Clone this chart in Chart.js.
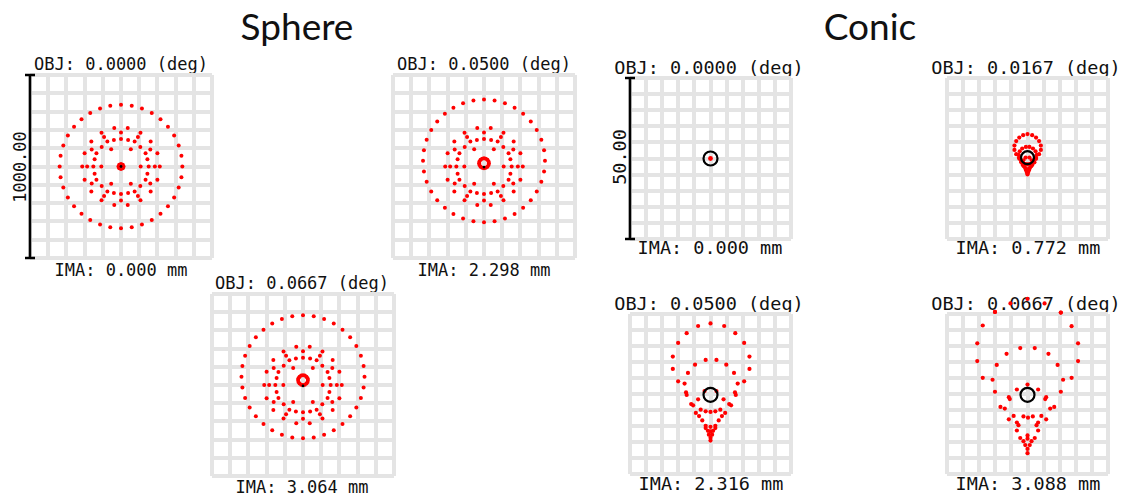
<!DOCTYPE html>
<html lang="en">
<head>
<meta charset="utf-8">
<title>Spot diagrams: Sphere vs Conic</title>
<script src="https://cdn.jsdelivr.net/npm/chart.js@4.4.1/dist/chart.umd.min.js"></script>
<style>
  body { margin: 0; width: 1125px; height: 495px; background: #fff; position: relative; overflow: hidden; }
  .big { position: absolute; transform: translate(-50%, -50%); font-family: Lato, sans-serif; font-size: 37px; color: #111; white-space: nowrap; }
  .lbl { position: absolute; transform: translate(-50%, -50%); font-family: "DejaVu Sans Mono", monospace; color: #111; white-space: nowrap; z-index: 1; line-height: 1; }
  .s { font-size: 17px; }
  .c { font-size: 18.5px; }
  .rot { transform: translate(-50%, -50%) rotate(-90deg); }
  canvas { position: absolute; z-index: 2; }
</style>
</head>
<body>
  <div class="big" style="left:297px; top:25px">Sphere</div>
  <div class="big" style="left:870px; top:25px">Conic</div>

  <div class="lbl s" style="left:121px; top:64px">OBJ: 0.0000 (deg)</div>
  <div class="lbl s" style="left:121px; top:270px">IMA: 0.000 mm</div>
  <div class="lbl s rot" style="left:20px; top:167px">1000.00</div>

  <div class="lbl s" style="left:484px; top:64px">OBJ: 0.0500 (deg)</div>
  <div class="lbl s" style="left:484px; top:270px">IMA: 2.298 mm</div>

  <div class="lbl s" style="left:302px; top:283px">OBJ: 0.0667 (deg)</div>
  <div class="lbl s" style="left:302px; top:487px">IMA: 3.064 mm</div>

  <div class="lbl c" style="left:709px; top:68px">OBJ: 0.0000 (deg)</div>
  <div class="lbl c" style="left:710px; top:248px">IMA: 0.000 mm</div>
  <div class="lbl c rot" style="left:620px; top:157px">50.00</div>

  <div class="lbl c" style="left:1026px; top:68px">OBJ: 0.0167 (deg)</div>
  <div class="lbl c" style="left:1028px; top:248px">IMA: 0.772 mm</div>

  <div class="lbl c" style="left:709px; top:304px">OBJ: 0.0500 (deg)</div>
  <div class="lbl c" style="left:711px; top:484px">IMA: 2.316 mm</div>

  <div class="lbl c" style="left:1026px; top:304px">OBJ: 0.0667 (deg)</div>
  <div class="lbl c" style="left:1028px; top:484px">IMA: 3.088 mm</div>

<script>
// spot positions in grid cells (10 x 10 cells per panel, chief ray near 0,0)

// sphere, outer ring of each field
const sphereOuter0 = [[3.37,0],[3.32,0.59],[3.17,1.15],[2.92,1.69],[2.58,2.17],[2.17,2.58],[1.69,2.92],[1.15,3.17],[0.59,3.32],[0,3.37],
  [-0.59,3.32],[-1.15,3.17],[-1.69,2.92],[-2.17,2.58],[-2.58,2.17],[-2.92,1.69],[-3.17,1.15],[-3.32,0.59],[-3.37,0],
  [-3.32,-0.59],[-3.17,-1.15],[-2.92,-1.69],[-2.58,-2.17],[-2.17,-2.58],[-1.69,-2.92],[-1.15,-3.17],[-0.59,-3.32],[0,-3.37],
  [0.59,-3.32],[1.15,-3.17],[1.69,-2.92],[2.17,-2.58],[2.58,-2.17],[2.92,-1.69],[3.17,-1.15],[3.32,-0.59]];

const sphereOuter050 = [[3.35,0.31],[3.30,0.89],[3.15,1.46],[2.90,1.99],[2.57,2.46],[2.15,2.88],[1.68,3.21],[1.15,3.46],[0.58,3.61],[0,3.66],
  [-0.58,3.61],[-1.15,3.46],[-1.68,3.21],[-2.15,2.88],[-2.57,2.46],[-2.90,1.99],[-3.15,1.46],[-3.30,0.89],[-3.35,0.31],
  [-3.30,-0.27],[-3.15,-0.84],[-2.90,-1.37],[-2.57,-1.84],[-2.15,-2.26],[-1.68,-2.59],[-1.15,-2.84],[-0.58,-2.99],[0,-3.04],
  [0.58,-2.99],[1.15,-2.84],[1.68,-2.59],[2.15,-2.26],[2.57,-1.84],[2.90,-1.37],[3.15,-0.84],[3.30,-0.27]];

const sphereOuter067 = [[3.38,0.45],[3.33,1.04],[3.18,1.61],[2.93,2.14],[2.59,2.62],[2.17,3.04],[1.69,3.38],[1.16,3.63],[0.59,3.78],[0,3.83],
  [-0.59,3.78],[-1.16,3.63],[-1.69,3.38],[-2.17,3.04],[-2.59,2.62],[-2.93,2.14],[-3.18,1.61],[-3.33,1.04],[-3.38,0.45],
  [-3.33,-0.14],[-3.18,-0.71],[-2.93,-1.24],[-2.59,-1.72],[-2.17,-2.14],[-1.69,-2.48],[-1.16,-2.73],[-0.59,-2.88],[0,-2.93],
  [0.59,-2.88],[1.16,-2.73],[1.69,-2.48],[2.17,-2.14],[2.59,-1.72],[2.93,-1.24],[3.18,-0.71],[3.33,-0.14]];

// sphere, inner rings (same look in all three fields)
const sphereInner = [
  [2.13,0],[2.00,0.73],[1.63,1.37],[1.07,1.84],[0.37,2.10],[-0.37,2.10],[-1.07,1.84],[-1.63,1.37],[-2.00,0.73],
  [-2.13,0],[-2.00,-0.73],[-1.63,-1.37],[-1.07,-1.84],[-0.37,-2.10],[0.37,-2.10],[1.07,-1.84],[1.63,-1.37],[2.00,-0.73],
  [1.86,0],[1.61,0.93],[0.93,1.61],[0,1.86],[-0.93,1.61],[-1.61,0.93],[-1.86,0],[-1.61,-0.93],[-0.93,-1.61],[0,-1.86],[0.93,-1.61],[1.61,-0.93],
  [1.52,0],[1.45,0.39],[1.06,1.06],[0.39,1.45],[0,1.50],[-0.39,1.45],[-1.06,1.06],[-1.45,0.39],[-1.52,0],
  [-1.45,-0.39],[-1.06,-1.06],[-0.39,-1.45],[0,-1.50],[0.39,-1.45],[1.06,-1.06],[1.45,-0.39],
  [1.35,0.72],[-1.35,0.72],[1.35,-0.72],[-1.35,-0.72],[0.75,1.36],[-0.75,1.36],[0.75,-1.36],[-0.75,-1.36],
  [1.08,0],[0.54,0.94],[-0.54,0.94],[-1.08,0],[-0.54,-0.94],[0.54,-0.94]];

// sphere, paraxial core
const sphereCore0 = [[0,0],[0.14,0],[-0.14,0],[0,0.14],[0,-0.14],[0.1,0.1],[-0.1,0.1],[0.1,-0.1],[-0.1,-0.1]];
const sphereCore050 = [[0.27,0.18],[0.25,0.28],[0.19,0.37],[0.10,0.43],[0,0.45],[-0.10,0.43],[-0.19,0.37],[-0.25,0.28],
  [-0.27,0.18],[-0.25,0.08],[-0.19,-0.01],[-0.10,-0.07],[0,-0.09],[0.10,-0.07],[0.19,-0.01],[0.25,0.08]];
const sphereCore067 = [[0.27,0.27],[0.25,0.37],[0.19,0.46],[0.10,0.52],[0,0.54],[-0.10,0.52],[-0.19,0.46],[-0.25,0.37],
  [-0.27,0.27],[-0.25,0.17],[-0.19,0.08],[-0.10,0.02],[0,0],[0.10,0.02],[0.19,0.08],[0.25,0.17]];

// conic spots
const conic0 = [[0,0]];
const conic017 = [
  [-0.27,1.45],[0,1.52],[0.29,1.45],[-0.51,1.30],[0.53,1.30],[-0.70,1.08],[0.72,1.08],[-0.81,0.80],[0.83,0.80],
  [-0.81,0.53],[0.83,0.53],[-0.70,0.27],[0.72,0.27],[-0.53,0.04],[0.53,0.04],
  [-0.10,0.72],[0.12,0.72],[-0.33,0.62],[0.34,0.62],[-0.48,0.45],[0.50,0.45],[-0.55,0.22],[0.57,0.22],
  [-0.50,-0.02],[0.53,-0.02],[-0.26,-0.11],[0.27,-0.11],[-0.40,-0.21],[-0.36,-0.24],[0.39,-0.21],[0.43,-0.24],[-0.12,0.06],[0.12,0.06],
  [-0.30,-0.39],[0.30,-0.39],[-0.20,-0.33],[0.20,-0.33],[-0.10,-0.36],[0,-0.37],[0.10,-0.36],[-0.24,-0.46],[0.24,-0.46],
  [-0.17,-0.55],[0.17,-0.55],[-0.10,-0.66],[0.10,-0.66],[-0.10,-0.71],[0,-0.68],[0.10,-0.71],[-0.05,-0.77],[0.05,-0.77],
  [0,-0.80],[-0.03,-0.86],[0.03,-0.86],[0,-0.93],[0,-0.99]];
const conic050 = [
  [-0.77,4.25],[0,4.41],[0.85,4.25],[-1.48,3.80],[1.54,3.80],[-2.01,3.19],[2.09,3.19],[-2.34,2.34],[2.42,2.34],
  [-2.34,1.57],[2.42,1.57],[-2.01,0.79],[2.09,0.79],[-1.52,0.10],[1.52,0.10],
  [-0.30,2.13],[0.37,2.13],[-0.96,1.83],[0.98,1.83],[-1.40,1.32],[1.46,1.32],[-1.61,0.65],[1.69,0.65],
  [-1.48,-0.06],[1.57,-0.06],[-0.77,-0.33],[0.81,-0.33],[-1.20,-0.63],[-1.08,-0.71],[1.16,-0.63],[1.28,-0.71],[-0.37,0.18],[0.37,0.18],
  [-0.91,-1.18],[0.91,-1.18],[-0.61,-0.98],[0.61,-0.98],[-0.30,-1.08],[0,-1.12],[0.30,-1.08],[-0.71,-1.38],[0.71,-1.38],
  [-0.51,-1.65],[0.51,-1.65],[-0.30,-1.99],[0.30,-1.99],[-0.30,-2.13],[0,-2.05],[0.30,-2.13],[-0.16,-2.30],[0.16,-2.30],
  [0,-2.34],[-0.10,-2.54],[0.10,-2.54],[0,-2.74],[0,-2.91]];
const conic067 = [
  [0,5.94],[-1.06,5.66],[1.06,5.66],[-2.02,5.13],[2.07,5.09],[-2.78,4.28],[2.74,4.24],[-3.12,3.17],[3.14,3.17],
  [-3.12,2.06],[3.14,2.06],[-2.78,1.01],[2.74,1.01],[-2.02,0.14],[2.07,0.14],[-1.68,-0.81],[1.66,-0.81],[-1.41,-0.91],[1.41,-0.91],
  [-0.45,2.87],[0.45,2.87],[-1.30,2.51],[1.30,2.51],[-1.91,1.82],[1.87,1.82],[-2.17,0.89],[2.21,0.89],
  [-0.66,0.28],[0.66,0.28],[0,0.59],[-1.16,-0.20],[-1.10,-0.32],[1.16,-0.20],[1.10,-0.32],
  [-0.86,-1.37],[-1.16,-1.58],[-0.25,-1.40],[0.03,-1.48],[0.33,-1.40],[0.86,-1.37],[1.16,-1.58],[-0.66,-1.78],[0.66,-1.78],
  [-0.56,-1.95],[0.56,-1.95],[-0.66,-2.28],[0.66,-2.28],[-0.45,-2.75],[0.45,-2.75],[-0.25,-2.95],[0.25,-2.95],
  [0,-2.59],[0,-2.79],[-0.14,-3.19],[0.14,-3.19],[0,-3.43],[0,-3.70]];

// chief ray / airy marks
const chiefSphere0 = [[0,0]];
const chiefSphere050 = [[0,-0.03]];
const chiefSphere067 = [[0,-0.05]];
const airy0 = [[0,0]];
const airy017 = [[0,0.05]];
const airy050 = [[0,-0.05]];
const airy067 = [[0,-0.05]];

// scale bar spans the full grid height
const scaleBar = [[-5,-5],[-5,5]];

const pad = 26;
const inset = 2; // keep the outer grid line inside the box

function pts(arr) {
  return arr.map(p => ({ x: p[0], y: p[1] }));
}

// points that fall outside the grid (0.0667 conic) are skipped by Chart.js, draw them anyway
const outsidePoints = {
  id: 'outsidePoints',
  afterDatasetsDraw(chart) {
    const ca = chart.chartArea;
    const whole = { left: 0, top: 0, right: chart.width, bottom: chart.height };
    chart.data.datasets.forEach((d, i) => {
      if (d.showLine) return;
      chart.getDatasetMeta(i).data.forEach(el => {
        if (el.y < ca.top - 1 || el.y > ca.bottom + 1 || el.x < ca.left - 1 || el.x > ca.right + 1) {
          el.draw(chart.ctx, whole);
        }
      });
    });
  }
};

function makePanel(left, top, w, h, spots, chief, opts) {
  const cv = document.createElement('canvas');
  cv.width = w - inset * 2 + pad * 2;
  cv.height = h - inset * 2 + pad * 2;
  cv.style.left = (left + inset - pad) + 'px';
  cv.style.top = (top + inset - pad) + 'px';
  document.body.appendChild(cv);

  const ds = [];
  ds.push({
    data: pts(chief),
    order: 0,
    clip: false,
    pointRadius: opts.chiefR,
    pointBackgroundColor: opts.airy ? 'rgba(0,0,0,0)' : '#000',
    pointBorderColor: '#000',
    pointBorderWidth: opts.airy ? 2.2 : 0
  });
  spots.forEach(s => {
    ds.push({
      data: pts(s),
      order: 1,
      clip: false,
      pointRadius: opts.dotR,
      pointBackgroundColor: '#ff0000',
      pointBorderWidth: 0
    });
  });
  if (opts.bar) {
    ds.push({
      data: pts(scaleBar),
      order: 0,
      clip: false,
      showLine: true,
      borderColor: '#000',
      borderWidth: 2.5,
      pointStyle: 'line',
      pointRadius: 5,
      pointBorderColor: '#000',
      pointBorderWidth: 2.5
    });
  }

  const axis = {
    type: 'linear',
    min: -5,
    max: 5,
    ticks: { display: false, stepSize: 1 },
    grid: { color: '#e4e4e4', lineWidth: 4, drawTicks: false },
    border: { display: false }
  };

  new Chart(cv.getContext('2d'), {
    type: 'scatter',
    data: { datasets: ds },
    plugins: [outsidePoints],
    options: {
      responsive: false,
      animation: false,
      layout: { padding: pad },
      plugins: { legend: { display: false }, tooltip: { enabled: false } },
      scales: { x: axis, y: Object.assign({}, axis) }
    }
  });
}

// sphere panels
makePanel(28, 73, 186, 187, [sphereOuter0, sphereInner, sphereCore0], chiefSphere0, { dotR: 2, chiefR: 1.4, bar: true });
makePanel(391, 73, 186, 187, [sphereOuter050, sphereInner, sphereCore050], chiefSphere050, { dotR: 2, chiefR: 1.4 });
makePanel(210, 292, 186, 186, [sphereOuter067, sphereInner, sphereCore067], chiefSphere067, { dotR: 2, chiefR: 1.4 });

// conic panels
makePanel(628, 76, 165, 165, [conic0], airy0, { dotR: 2.4, chiefR: 7, airy: true, bar: true });
makePanel(945, 76, 165, 165, [conic017], airy017, { dotR: 2.1, chiefR: 6.5, airy: true });
makePanel(628, 312, 165, 164, [conic050], airy050, { dotR: 2.1, chiefR: 7, airy: true });
makePanel(945, 312, 165, 164, [conic067], airy067, { dotR: 2.1, chiefR: 7, airy: true });
</script>
</body>
</html>
